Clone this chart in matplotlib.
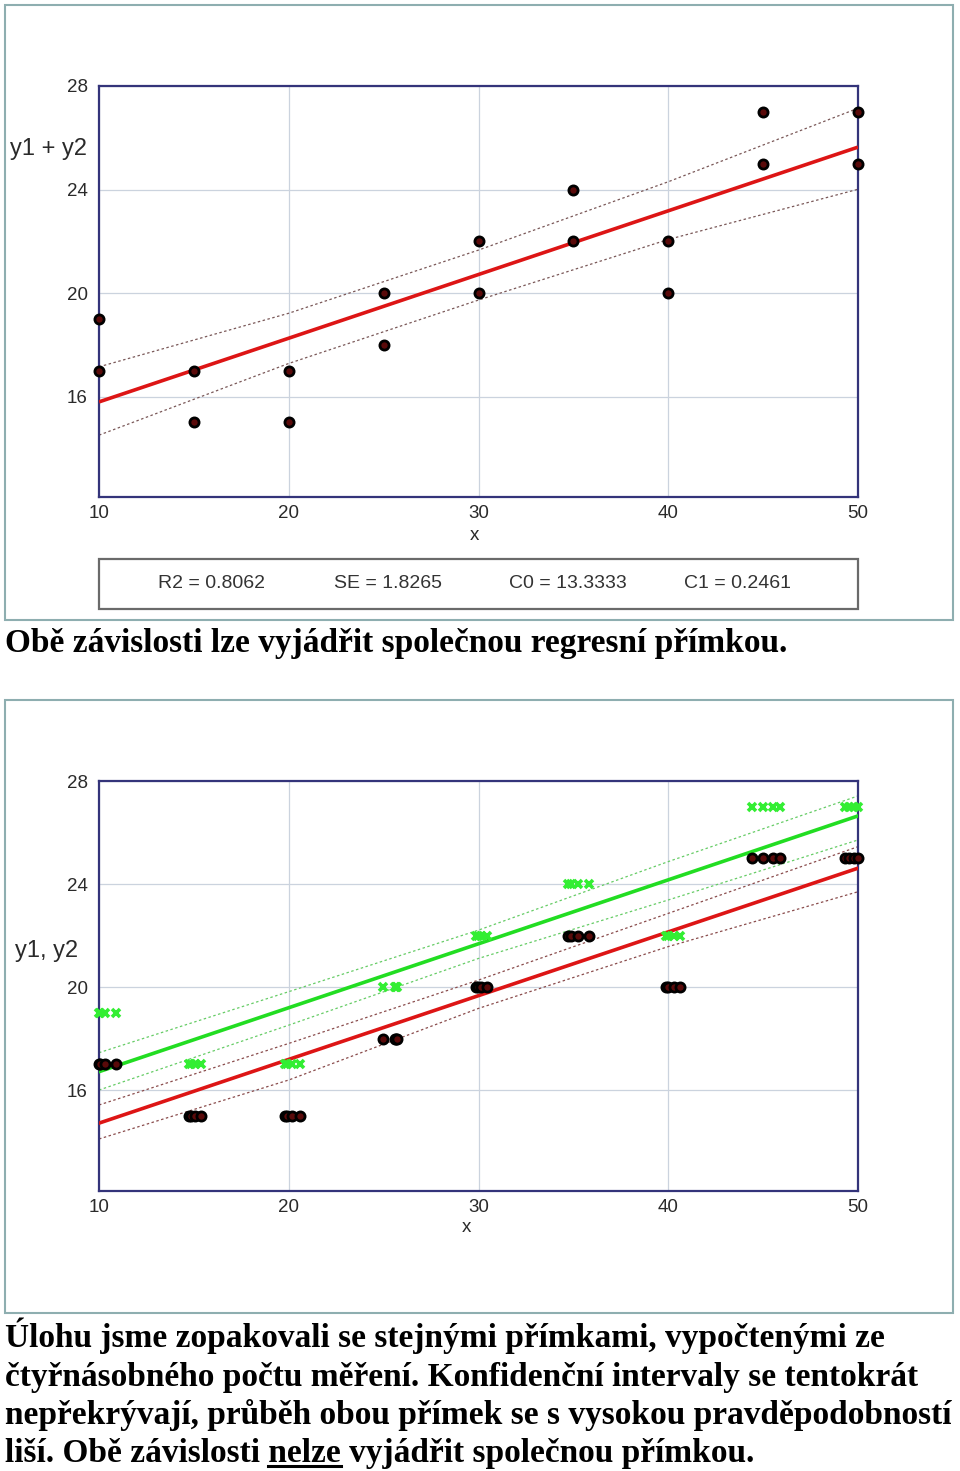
import matplotlib
matplotlib.use("Agg")
import matplotlib.pyplot as plt
from matplotlib.patches import Rectangle
from matplotlib.lines import Line2D

# ---------------- data ----------------
x_base = [10, 15, 20, 25, 30, 35, 40, 45, 50]
y1 = [17, 15, 15, 18, 20, 22, 20, 25, 25]
y2 = [19, 17, 17, 20, 22, 24, 22, 27, 27]

# repeated measurements (bottom chart) - x positions of the 4 repeats
x_rep = [
    [10.0, 10.05, 10.3, 10.9],
    [14.75, 14.85, 15.05, 15.4],
    [19.8, 19.9, 20.15, 20.6],
    [24.98, 25.6, 25.65, 25.7],
    [29.85, 29.95, 30.15, 30.45],
    [34.7, 34.85, 35.25, 35.8],
    [39.9, 40.0, 40.3, 40.6],
    [44.4, 45.0, 45.5, 45.9],
    [49.3, 49.55, 49.8, 50.0],
]

# statistics of combined regression (top)
R2, SE, C0, C1 = 0.8062, 1.8265, 13.3333, 0.2461
stat_labels = ["R2 = 0.8062", "SE = 1.8265", "C0 = 13.3333", "C1 = 0.2461"]

# confidence bands
band_x = [10, 20, 30, 40, 50]
top_upper = [17.15, 19.22, 21.66, 24.30, 27.14]
top_lower = [14.51, 17.28, 19.73, 22.07, 24.01]

# bottom: separate lines
red_c0, red_c1 = 12.24, 0.2475
green_c0, green_c1 = 14.23, 0.2483
green_upper = [17.45, 19.82, 22.21, 24.87, 27.42]
green_lower = [16.00, 18.52, 21.11, 23.38, 25.71]
red_upper = [15.42, 17.81, 20.27, 22.86, 25.45]
red_lower = [14.10, 16.39, 19.17, 21.57, 23.70]

xticks = [10, 20, 30, 40, 50]
yticks = [16, 20, 24, 28]

caption1 = "Obě závislosti lze vyjádřit společnou regresní přímkou."
para = [
    "Úlohu jsme zopakovali se stejnými přímkami, vypočtenými ze",
    "čtyřnásobného počtu měření. Konfidenční intervaly se tentokrát",
    "nepřekrývají, průběh obou přímek se s vysokou pravděpodobností",
]
last_line_parts = ["liší. Obě závislosti ", "nelze", " vyjádřit společnou přímkou."]

# ---------------- figure ----------------
W, H = 960, 1471
fig = plt.figure(figsize=(W / 100, H / 100), dpi=100)
fig.patch.set_facecolor("white")

SANS = ["Liberation Sans", "DejaVu Sans"]
SERIF = ["Liberation Serif", "DejaVu Serif"]


def px_axes(l, t, r, b):
    return fig.add_axes([l / W, 1 - b / H, (r - l) / W, (b - t) / H])


def fx(x):
    return x / W


def fy(y):
    return 1 - y / H


# panel frames
for (l, t, r, b) in [(5, 5, 953, 620), (5, 700, 953, 1313)]:
    fig.add_artist(Rectangle((fx(l), fy(b)), fx(r - l), (b - t) / H,
                             transform=fig.transFigure, fill=False,
                             edgecolor="#8eaeb0", lw=1.5))

SPINE = "#34347a"
GRID = "#cbd3de"
TICKC = "#2a2a2a"
DOT_KW = dict(marker="o", ms=6.6, mfc="#5a0a0a", mec="black", mew=2.0,
              ls="none", clip_on=False, zorder=5)
X_KW = dict(marker="x", ms=6.0, mew=2.6, color="#33ee33", ls="none",
            clip_on=False, zorder=6)


def style_axes(ax, ybottom):
    ax.set_xlim(10, 50)
    ax.set_ylim(ybottom, 28)
    ax.set_xticks(xticks)
    ax.set_yticks(yticks)
    ax.tick_params(length=0, labelsize=13.5, colors=TICKC, pad=6)
    ax.tick_params(axis="y", pad=8)
    for lab in ax.get_xticklabels() + ax.get_yticklabels():
        lab.set_family(SANS)
    ax.grid(True, color=GRID, lw=0.9)
    ax.set_axisbelow(True)
    for s in ax.spines.values():
        s.set_color(SPINE)
        s.set_linewidth(1.6)


# ---------------- top chart ----------------
ax1 = px_axes(99, 86, 858, 497)
style_axes(ax1, 12.12)
xs_top = [x for x in x_base for _ in range(2)]
ys_top = [v for a, b in zip(y1, y2) for v in (b, a)]
ax1.plot([10, 50], [C0 + C1 * 10, C0 + C1 * 50], color="#dd1515", lw=2.6,
         zorder=3, solid_capstyle="butt")
ax1.plot(band_x, top_upper, color="#7a5858", lw=0.9, ls=(0, (2, 2)), zorder=2)
ax1.plot(band_x, top_lower, color="#7a5858", lw=0.9, ls=(0, (2, 2)), zorder=2)
ax1.plot(xs_top, ys_top, **DOT_KW)

fig.text(fx(474), fy(535), "x", ha="center", va="center", fontsize=13.5,
         family=SANS, color=TICKC)
fig.text(fx(48), fy(149), "y1 + y2", ha="center", va="center", fontsize=17,
         family=SANS, color=TICKC)

# stats box
fig.add_artist(Rectangle((fx(99), fy(609)), fx(858 - 99), (609 - 559) / H,
                         transform=fig.transFigure, fill=False,
                         edgecolor="#6a6a6a", lw=1.6))
for lab, cx in zip(stat_labels, [211, 388, 568, 738]):
    fig.text(fx(cx), fy(584), lab, ha="center", va="center", fontsize=14,
             family=SANS, color="#333333")

# ---------------- bottom chart ----------------
ax2 = px_axes(99, 781, 858, 1191)
style_axes(ax2, 12.08)
ax2.plot(band_x, red_upper, color="#8a4c4c", lw=0.9, ls=(0, (2, 2)), zorder=2)
ax2.plot(band_x, red_lower, color="#8a4c4c", lw=0.9, ls=(0, (2, 2)), zorder=2)
ax2.plot(band_x, green_upper, color="#66cc66", lw=0.9, ls=(0, (2, 2)), zorder=2)
ax2.plot(band_x, green_lower, color="#66cc66", lw=0.9, ls=(0, (2, 2)), zorder=2)
ax2.plot([10, 50], [red_c0 + red_c1 * 10, red_c0 + red_c1 * 50],
         color="#dd1515", lw=2.6, zorder=3)
ax2.plot([10, 50], [green_c0 + green_c1 * 10, green_c0 + green_c1 * 50],
         color="#22dd22", lw=2.6, zorder=3)
xr = [x for row in x_rep for x in row]
yr1 = [v for v, row in zip(y1, x_rep) for _ in row]
yr2 = [v for v, row in zip(y2, x_rep) for _ in row]
ax2.plot(xr, yr1, **DOT_KW)
ax2.plot(xr, yr2, **X_KW)

fig.text(fx(466), fy(1228), "x", ha="center", va="center", fontsize=13.5,
         family=SANS, color=TICKC)
fig.text(fx(47), fy(951), "y1, y2", ha="center", va="center", fontsize=17,
         family=SANS, color=TICKC)

# ---------------- captions ----------------
renderer = fig.canvas.get_renderer()


def fit_size(text, target_w, base=22):
    t = fig.text(0, 0, text, fontsize=base, family=SERIF, weight="bold")
    w = t.get_window_extent(renderer).width
    t.remove()
    return base * target_w / w


fs1 = fit_size(caption1, 783)
fig.text(fx(5), fy(652), caption1, ha="left", va="baseline", fontsize=fs1,
         family=SERIF, weight="bold", color="black")

fs2 = fit_size(para[2], 944)
baselines = [1347, 1386, 1424, 1462]
for line, yb in zip(para, baselines[:3]):
    fig.text(fx(5), fy(yb), line, ha="left", va="baseline", fontsize=fs2,
             family=SERIF, weight="bold", color="black")

full_last = "".join(last_line_parts)
fig.text(fx(5), fy(baselines[3]), full_last, ha="left", va="baseline",
         fontsize=fs2, family=SERIF, weight="bold", color="black")


def width_of(s):
    t = fig.text(0, 0, s, fontsize=fs2, family=SERIF, weight="bold")
    w = t.get_window_extent(renderer).width
    t.remove()
    return w


w_pre_n = width_of(last_line_parts[0] + last_line_parts[1])
w_n = width_of(last_line_parts[1])
u_start = 5 + w_pre_n - w_n
u_end = 5 + w_pre_n
fig.add_artist(Line2D([fx(u_start), fx(u_end)], [fy(baselines[3] + 4)] * 2,
                      transform=fig.transFigure, color="black", lw=2.2))

fig.savefig("out.png", dpi=100, facecolor="white")
